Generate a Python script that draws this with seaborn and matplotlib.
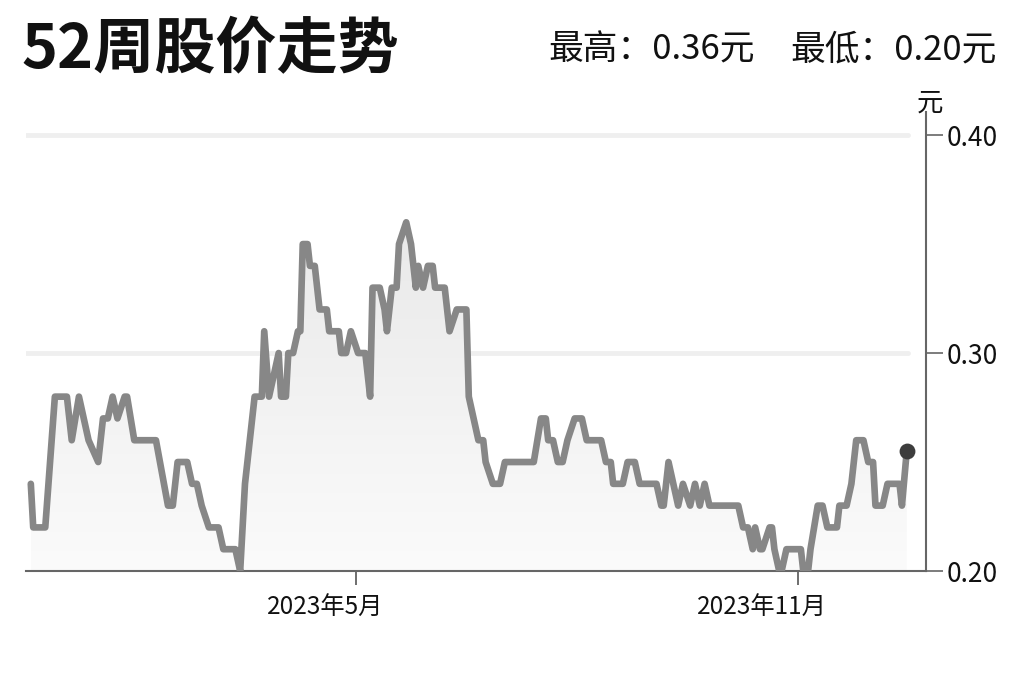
import numpy as np
import pandas as pd
import matplotlib
matplotlib.use("Agg")
import matplotlib.pyplot as plt
import matplotlib.dates as mdates
import matplotlib.transforms as mtransforms
from matplotlib.colors import LinearSegmentedColormap
import seaborn as sns

# price at each turning point
dates = [
    "2022-12-17", "2022-12-18", "2022-12-23", "2022-12-27", "2023-01-01", "2023-01-03",
    "2023-01-06", "2023-01-08", "2023-01-10", "2023-01-14", "2023-01-16", "2023-01-18",
    "2023-01-20", "2023-01-22", "2023-01-25", "2023-01-26", "2023-01-29", "2023-02-07",
    "2023-02-12", "2023-02-14", "2023-02-16", "2023-02-20", "2023-02-22", "2023-02-24",
    "2023-02-26", "2023-03-01", "2023-03-05", "2023-03-07", "2023-03-12", "2023-03-14",
    "2023-03-16", "2023-03-18", "2023-03-20", "2023-03-23", "2023-03-24", "2023-03-26",
    "2023-03-28", "2023-03-30", "2023-03-31", "2023-04-02", "2023-04-03", "2023-04-05",
    "2023-04-07", "2023-04-08", "2023-04-09", "2023-04-11", "2023-04-12", "2023-04-14",
    "2023-04-16", "2023-04-19", "2023-04-20", "2023-04-24", "2023-04-25", "2023-04-27",
    "2023-04-29", "2023-05-02", "2023-05-05", "2023-05-07", "2023-05-08", "2023-05-11",
    "2023-05-13", "2023-05-14", "2023-05-16", "2023-05-18", "2023-05-19", "2023-05-22",
    "2023-05-24", "2023-05-26", "2023-05-27", "2023-05-29", "2023-05-31", "2023-06-02",
    "2023-06-03", "2023-06-07", "2023-06-09", "2023-06-12", "2023-06-16", "2023-06-17",
    "2023-06-19", "2023-06-21", "2023-06-23", "2023-06-24", "2023-06-27", "2023-06-30",
    "2023-07-02", "2023-07-14", "2023-07-17", "2023-07-19", "2023-07-20", "2023-07-22",
    "2023-07-24", "2023-07-26", "2023-07-28", "2023-07-31", "2023-08-03", "2023-08-05",
    "2023-08-11", "2023-08-13", "2023-08-15", "2023-08-16", "2023-08-20", "2023-08-22",
    "2023-08-25", "2023-08-27", "2023-09-03", "2023-09-05", "2023-09-06", "2023-09-08",
    "2023-09-10", "2023-09-12", "2023-09-14", "2023-09-17", "2023-09-19", "2023-09-21",
    "2023-09-23", "2023-09-25", "2023-10-07", "2023-10-09", "2023-10-11", "2023-10-13",
    "2023-10-14", "2023-10-16", "2023-10-17", "2023-10-20", "2023-10-21", "2023-10-22",
    "2023-10-24", "2023-10-25", "2023-10-27", "2023-11-02", "2023-11-03", "2023-11-05",
    "2023-11-06", "2023-11-09", "2023-11-11", "2023-11-13", "2023-11-17", "2023-11-18",
    "2023-11-21", "2023-11-23", "2023-11-25", "2023-11-28", "2023-11-30", "2023-12-02",
    "2023-12-03", "2023-12-06", "2023-12-08", "2023-12-13", "2023-12-14", "2023-12-16",
]
prices = [
    0.24, 0.22, 0.22, 0.28, 0.28, 0.26,
    0.28, 0.27, 0.26, 0.25, 0.27, 0.27,
    0.28, 0.27, 0.28, 0.28, 0.26, 0.26,
    0.23, 0.23, 0.25, 0.25, 0.24, 0.24,
    0.23, 0.22, 0.22, 0.21, 0.21, 0.20,
    0.24, 0.26, 0.28, 0.28, 0.31, 0.28,
    0.29, 0.30, 0.28, 0.28, 0.30, 0.30,
    0.31, 0.31, 0.35, 0.35, 0.34, 0.34,
    0.32, 0.32, 0.31, 0.31, 0.30, 0.30,
    0.31, 0.30, 0.30, 0.28, 0.33, 0.33,
    0.32, 0.31, 0.33, 0.33, 0.35, 0.36,
    0.35, 0.33, 0.34, 0.33, 0.34, 0.34,
    0.33, 0.33, 0.31, 0.32, 0.32, 0.28,
    0.27, 0.26, 0.26, 0.25, 0.24, 0.24,
    0.25, 0.25, 0.27, 0.27, 0.26, 0.26,
    0.25, 0.25, 0.26, 0.27, 0.27, 0.26,
    0.26, 0.25, 0.25, 0.24, 0.24, 0.25,
    0.25, 0.24, 0.24, 0.23, 0.23, 0.25,
    0.24, 0.23, 0.24, 0.23, 0.24, 0.23,
    0.24, 0.23, 0.23, 0.22, 0.22, 0.21,
    0.22, 0.21, 0.21, 0.22, 0.22, 0.21,
    0.20, 0.20, 0.21, 0.21, 0.20, 0.20,
    0.21, 0.23, 0.23, 0.22, 0.22, 0.23,
    0.23, 0.24, 0.26, 0.26, 0.25, 0.25,
    0.23, 0.23, 0.24, 0.24, 0.23, 0.255,
]

x_tick_dates = ["2023-05-01", "2023-11-01"]
x_tick_labels = ["2023年5月", "2023年11月"]
y_ticks = [0.20, 0.30, 0.40]
y_tick_labels = ["0.20", "0.30", "0.40"]
high_price = 0.36
low_price = 0.20

df = pd.DataFrame({"date": pd.to_datetime(dates), "price": prices})

sns.set_style("white")
plt.rcParams['font.family'] = ['Noto Sans CJK SC', 'DejaVu Sans']

fig = plt.figure(figsize=(10.24, 6.82), dpi=100)
ax = fig.add_axes([26 / 1024, 111 / 682, 900 / 1024, 459 / 682])

# light gridlines stop a little short of the axis
for y in y_ticks[1:]:
    ax.axhline(y, xmin=0, xmax=0.98, color="#efefef", lw=3.5, zorder=0)

sns.lineplot(data=df, x="date", y="price", color="#878787", linewidth=4.8,
             ax=ax, zorder=3)

# gradient fill under the line
poly = ax.fill_between(df["date"], df["price"], 0.20, color="none", lw=0)
cmap = LinearSegmentedColormap.from_list("fade", ["#fbfbfb", "#e9e9e9"])
grad = np.linspace(1, 0, 256).reshape(-1, 1)
x0 = mdates.date2num(df["date"].iloc[0])
x1 = mdates.date2num(df["date"].iloc[-1])
img = ax.imshow(grad, aspect="auto", cmap=cmap, origin="upper",
                extent=[x0, x1, 0.20, max(prices)], zorder=1)
img.set_clip_path(poly.get_paths()[0], transform=ax.transData)

last = df.iloc[-1]
ax.scatter([last["date"]], [last["price"]], s=130, color="#3d3d3d", zorder=5, lw=0)

ax.set_xlim(pd.Timestamp("2022-12-15"), pd.Timestamp("2023-12-24"))
ax.set_ylim(0.20, 0.4106)

ax.set_xticks(pd.to_datetime(x_tick_dates))
ax.set_xticklabels(x_tick_labels)
ax.yaxis.tick_right()
ax.set_yticks(y_ticks)
ax.set_yticklabels(y_tick_labels)
ax.tick_params(axis="y", length=12, width=1.2, color="#666666", labelsize=19,
               pad=3, labelcolor="#111111")
ax.tick_params(axis="x", length=10, width=1.2, color="#555555", labelsize=17.5,
               pad=7, labelcolor="#111111", bottom=True)
ax.set_xlabel("")
ax.set_ylabel("")

# month labels sit slightly left of their tick, ending just past it
shift = mtransforms.ScaledTranslation(0.28, 0, fig.dpi_scale_trans)
for lab in ax.get_xticklabels():
    lab.set_horizontalalignment("right")
    lab.set_transform(lab.get_transform() + shift)

for side in ["top", "left"]:
    ax.spines[side].set_visible(False)
for side in ["bottom", "right"]:
    ax.spines[side].set_color("#666666")
    ax.spines[side].set_linewidth(1.5)

fig.text(21 / 1024, 1 - 50 / 682, "52周股价走势", fontsize=44, fontweight="black",
         ha="left", va="center", color="#111111")
fig.text(755 / 1024, 1 - 50 / 682, f"最高：{high_price:.2f}元", fontsize=25,
         ha="right", va="center", color="#111111")
fig.text(997 / 1024, 1 - 50 / 682, f"最低：{low_price:.2f}元", fontsize=25,
         ha="right", va="center", color="#111111")
fig.text(930 / 1024, 1 - 103 / 682, "元", fontsize=19, ha="center", va="center",
         color="#111111")

fig.savefig("out.png", dpi=100, facecolor="white")
